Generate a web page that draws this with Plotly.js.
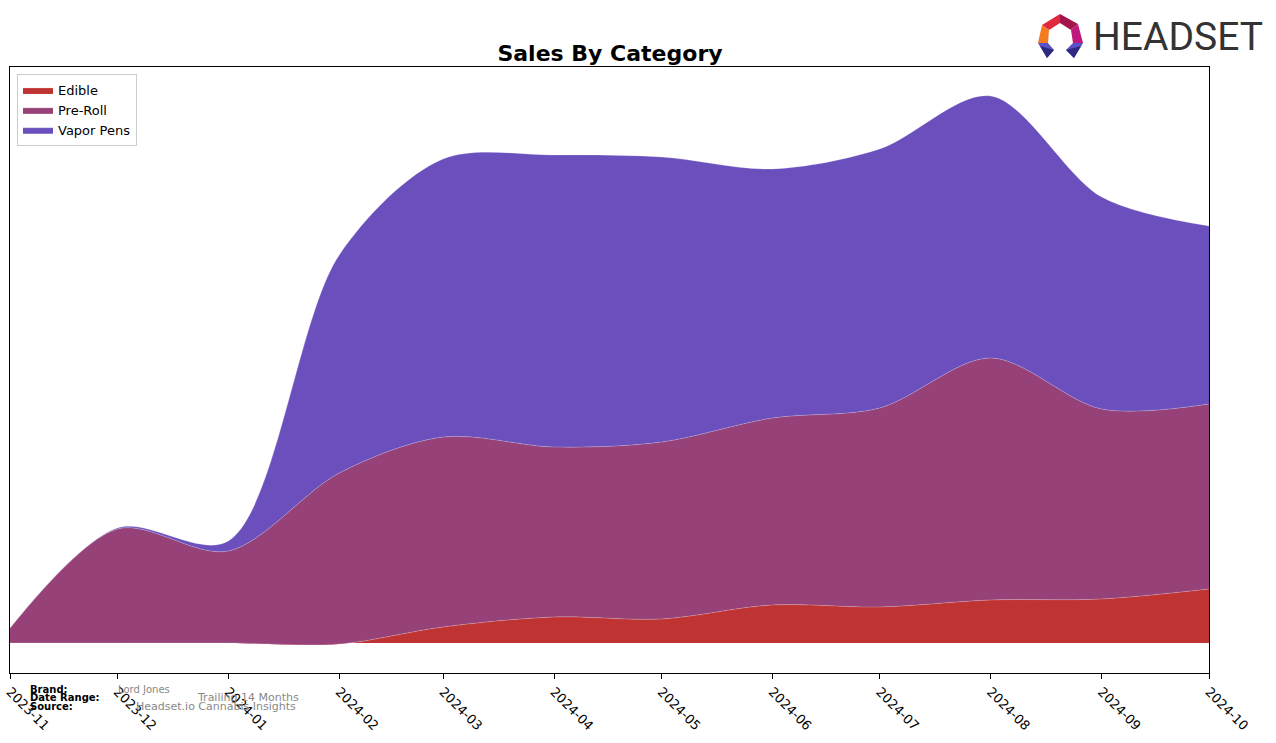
<!DOCTYPE html>
<html>
<head>
<meta charset="utf-8">
<script src="https://cdn.plot.ly/plotly-3.0.1.min.js"></script>
<style>html,body{margin:0;padding:0;background:#fff;}#chart{width:1276px;height:743px;}</style>
</head>
<body>
<div id="chart"></div>
<script>
// ---- data (arbitrary sales units) ----
const months = ['2023-11-01','2023-12-01','2024-01-01','2024-02-01','2024-03-01','2024-04-01','2024-05-01','2024-06-01','2024-07-01','2024-08-01','2024-09-01','2024-10-01'];
const tickLabels = ['2023-11','2023-12','2024-01','2024-02','2024-03','2024-04','2024-05','2024-06','2024-07','2024-08','2024-09','2024-10'];
const edible   = [0, 0, 0, -1, 16, 26, 24, 38, 36, 43, 44, 54];
const preRoll  = [15, 114, 92, 171, 190, 170, 177, 187, 199, 242, 190, 185];
const vaporPens= [0, 1, 10, 218, 278, 292, 285, 249, 259, 262, 212, 178];
const seriesNames = ['Edible','Pre-Roll','Vapor Pens'];
const seriesColors = ['#c03333','#964279','#6a4fbd'];

// plot area in pixels
const L = 10, R = 1209, T = 67, B = 673;
const px2x = p => (p - L) / (R - L);
const py2y = p => (B - p) / (B - T);

const seriesData = [edible, preRoll, vaporPens];
const traces = seriesData.map((vals, i) => ({
  type: 'scatter',
  mode: 'lines',
  x: months,
  y: vals,
  name: seriesNames[i],
  stackgroup: 'one',
  line: {shape: 'spline', smoothing: 0.9, width: 0.6, color: 'rgba(255,255,255,0.35)'},
  fillcolor: seriesColors[i],
  hoverinfo: 'x+y+name'
}));

// Headset logo pieces (decorative)
function pathFromPx(pts) {
  return 'M ' + pts.map(p => px2x(p[0]).toFixed(5) + ',' + py2y(p[1]).toFixed(5)).join(' L ') + ' Z';
}
const logoPieces = [
  {pts: [[1042,25],[1060,14],[1060,23],[1049,30]], c: '#e0283e'},
  {pts: [[1060,14],[1078,24],[1071,30],[1060,23]], c: '#a3154b'},
  {pts: [[1078,24],[1083,43],[1073,43],[1071,30]], c: '#c0187c'},
  {pts: [[1042,25],[1049,30],[1048,43],[1038,43]], c: '#f47b20'},
  {pts: [[1038,43],[1048,43],[1054,50],[1047,58]], c: '#5a50c8'},
  {pts: [[1073,43],[1083,43],[1074,58],[1066,50]], c: '#5a50c8'},
  {pts: [[1040,46],[1054,50],[1047,58]], c: '#2f2a80'},
  {pts: [[1081,46],[1066,50],[1074,58]], c: '#2f2a80'}
];
const shapes = logoPieces.map(p => ({
  type: 'path', xref: 'paper', yref: 'paper', path: pathFromPx(p.pts),
  fillcolor: p.c, line: {width: 0}, layer: 'above'
}));

const footFont = {family: 'DejaVu Sans', size: 10, color: '#000'};
const grayFont = {family: 'DejaVu Sans', size: 11, color: '#888'};
const ann = (text, px, py, font) => ({
  text: text, xref: 'paper', yref: 'paper', x: px2x(px), y: py2y(py),
  xanchor: 'left', yanchor: 'middle', showarrow: false, font: font
});
const annotations = [
  ann('<b>Brand:</b>', 28, 689, footFont),
  ann('<b>Date Range:</b>', 28, 698, footFont),
  ann('<b>Source:</b>', 28, 707, footFont),
  ann('Lord Jones', 116, 689, {family: 'DejaVu Sans', size: 10, color: '#888'}),
  ann('Trailing 14 Months', 195, 698, grayFont),
  ann('Headset.io Cannabis Insights', 134, 707, grayFont),
  {text: 'HEADSET', xref: 'paper', yref: 'paper', x: px2x(1091), y: py2y(37),
   xanchor: 'left', yanchor: 'middle', showarrow: false,
   font: {family: 'Roboto, sans-serif', size: 39, color: '#333333'}}
];

const layout = {
  width: 1276, height: 743,
  margin: {l: L, r: 1276 - R, t: T, b: 743 - B, pad: 0},
  paper_bgcolor: '#ffffff', plot_bgcolor: '#ffffff',
  font: {family: 'DejaVu Sans', size: 13, color: '#000'},
  title: {text: '<b>Sales By Category</b>', font: {family: 'DejaVu Sans', size: 22, color: '#000'},
          x: px2x(610), xref: 'paper', xanchor: 'center', y: 1 - 53/743, yref: 'container', yanchor: 'middle'},
  showlegend: true,
  legend: {x: px2x(17), y: py2y(74), xanchor: 'left', yanchor: 'top', traceorder: 'normal',
           bgcolor: '#ffffff', bordercolor: '#cccccc', borderwidth: 1,
           font: {family: 'DejaVu Sans', size: 13, color: '#000'}, itemwidth: 30},
  xaxis: {type: 'date', range: [months[0], months[months.length - 1]],
          tickmode: 'array', tickvals: months, ticktext: tickLabels, tickangle: 45,
          ticks: 'outside', ticklen: 5, tickcolor: '#000', tickwidth: 1,
          showgrid: false, zeroline: false, showline: true, mirror: true, linecolor: '#000', linewidth: 1,
          tickfont: {family: 'DejaVu Sans', size: 13, color: '#000'}, fixedrange: true},
  yaxis: {range: [-30, 576], showticklabels: false, ticks: '', showgrid: false, zeroline: false,
          showline: true, mirror: true, linecolor: '#000', linewidth: 1, fixedrange: true},
  shapes: shapes,
  annotations: annotations
};

Plotly.newPlot('chart', traces, layout, {displayModeBar: false, staticPlot: true});
</script>
</body>
</html>
